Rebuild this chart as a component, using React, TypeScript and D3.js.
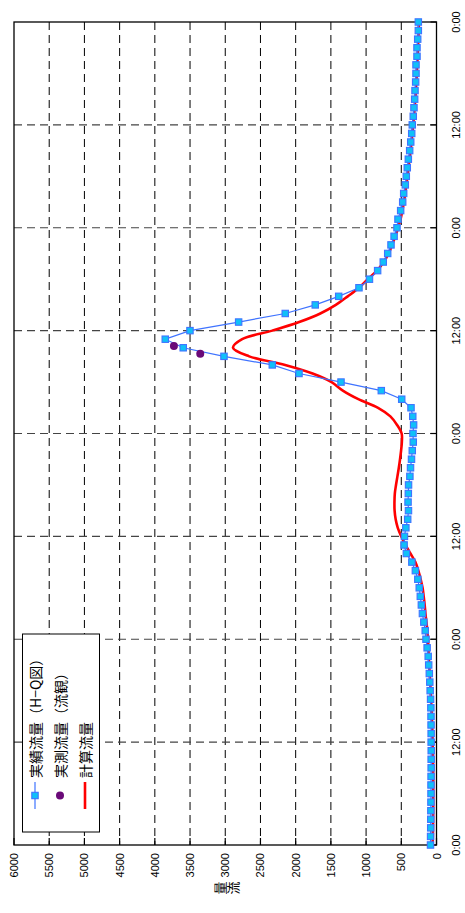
import { useEffect, useRef } from "react";
import * as d3 from "d3";

// hours from start (one point per hour, 4 days)
const hours = d3.range(0, 97);

// 実績流量（H−Q図）
const hqFlow = [
  85, 84, 82, 81, 80, 79, 78, 78, 77, 76, 76, 75,
  76, 76, 77, 78, 80, 84, 90, 95, 102, 111, 118, 133,
  149, 160, 180, 200, 215, 230, 245, 265, 300, 350, 428, 460,
  455, 435, 409, 398, 404, 400, 397, 378, 369, 355, 344, 330,
  334, 325, 337, 362, 494, 784, 1356, 1953, 2332, 3018, 3597, 3852,
  3501, 2810, 2148, 1722, 1389, 1101, 952, 836, 756, 693, 646, 602,
  561, 547, 509, 480, 466, 443, 429, 415, 400, 381, 366, 352,
  344, 330, 320, 310, 305, 296, 291, 291, 277, 277, 267, 258,
  258,
];

// 計算流量
const calcFlow = [
  55, 52, 50, 48, 47, 46, 46, 46, 47, 48, 50, 52,
  55, 58, 62, 67, 72, 78, 84, 90, 97, 104, 110, 115,
  120, 130, 143, 157, 168, 182, 198, 225, 258, 300, 370, 440,
  500, 550, 580, 595, 597, 592, 575, 555, 535, 518, 503, 492,
  495, 560, 655, 830, 1110, 1330, 1490, 1760, 2150, 2660, 2890, 2760,
  2330, 1950, 1650, 1430, 1260, 1100, 975, 845, 750, 680, 630, 585,
  545, 510, 485, 462, 445, 428, 412, 398, 383, 368, 355, 343,
  332, 320, 310, 301, 293, 286, 280, 274, 268, 263, 258, 253,
  250,
];

// 実測流量（流観）
const obsHours = [57.3, 58.2];
const obsFlow = [3355, 3729];

const valueTicks = d3.range(0, 6001, 500);
const timeTicks = d3.range(0, 97, 12);
const timeLabels = ["0:00", "12:00", "0:00", "12:00", "0:00", "12:00", "0:00", "12:00", "0:00"];

const legendItems = ["実績流量（H−Q図）", "実測流量（流観）", "計算流量"];

const FONT = "'Liberation Sans', Arial, sans-serif";
const JP = "'Noto Sans CJK JP', sans-serif";

export default function App() {
  const ref = useRef<SVGSVGElement>(null);

  useEffect(() => {
    const el = ref.current;
    if (!el) return;
    const W = 465, H = 913;
    const svg = d3.select(el).attr("width", W).attr("height", H).attr("viewBox", `0 0 ${W} ${H}`);
    svg.selectAll("*").remove();

    // chart is drawn turned a quarter turn: value runs right->left, time bottom->top
    const L = 14, R = 436.5, T = 22, B = 845;
    const x = d3.scaleLinear().domain([0, 6000]).range([R, L]);
    const y = d3.scaleLinear().domain([0, 96]).range([B, T]);

    svg.append("rect").attr("width", W).attr("height", H).attr("fill", "#fff");

    // grid
    valueTicks.filter((v) => v > 0 && v < 6000).forEach((v) => {
      svg.append("line").attr("x1", x(v)).attr("x2", x(v)).attr("y1", T).attr("y2", B)
        .attr("stroke", "#000").attr("stroke-width", 1).attr("stroke-dasharray", "8 5");
    });
    timeTicks.filter((t) => t > 0 && t < 96).forEach((t) => {
      svg.append("line").attr("x1", L).attr("x2", R).attr("y1", y(t)).attr("y2", y(t))
        .attr("stroke", "#444").attr("stroke-width", 1.2).attr("stroke-dasharray", "8 5");
    });

    // frame
    svg.append("rect").attr("x", L).attr("y", T).attr("width", R - L).attr("height", B - T)
      .attr("fill", "none").attr("stroke", "#000").attr("stroke-width", 1.3);

    // ticks
    valueTicks.forEach((v) => {
      svg.append("line").attr("x1", x(v)).attr("x2", x(v)).attr("y1", B).attr("y2", B - 7)
        .attr("stroke", "#000").attr("stroke-width", 1.2);
      svg.append("text").attr("transform", `translate(${x(v)},${B + 8}) rotate(-90)`)
        .attr("text-anchor", "end").attr("dominant-baseline", "central")
        .attr("font-family", FONT).attr("font-size", 11).attr("fill", "#000").text(v);
    });
    timeTicks.forEach((t, i) => {
      svg.append("line").attr("x1", R).attr("x2", R - 6).attr("y1", y(t)).attr("y2", y(t))
        .attr("stroke", "#000").attr("stroke-width", 1.2);
      svg.append("text").attr("transform", `translate(${R + 19},${y(t)}) rotate(-90)`)
        .attr("text-anchor", "middle").attr("dominant-baseline", "central")
        .attr("font-family", FONT).attr("font-size", 11).attr("fill", "#000").text(timeLabels[i]);
    });

    // axis title (stacked glyphs turned with the chart)
    ["量", "流"].forEach((c, i) => {
      svg.append("text").attr("transform", `translate(${219 + i * 13},${888}) rotate(-90)`)
        .attr("text-anchor", "middle").attr("dominant-baseline", "central")
        .attr("font-family", JP).attr("font-size", 13).attr("fill", "#000").text(c);
    });

    // series
    const hq = hours.map((h, i) => ({ h, v: hqFlow[i] }));
    const calc = hours.map((h, i) => ({ h, v: calcFlow[i] }));

    const calcLine = d3.line<{ h: number; v: number }>().x((d) => x(d.v)).y((d) => y(d.h)).curve(d3.curveCatmullRom.alpha(0.5));
    svg.append("path").datum(calc).attr("fill", "none").attr("stroke", "#ff0000").attr("stroke-width", 2.6).attr("d", calcLine);

    const hqLine = d3.line<{ h: number; v: number }>().x((d) => x(d.v)).y((d) => y(d.h));
    svg.append("path").datum(hq).attr("fill", "none").attr("stroke", "#3f73ff").attr("stroke-width", 1.2).attr("d", hqLine);

    svg.append("g").selectAll("rect").data(hq).join("rect")
      .attr("x", (d) => x(d.v) - 3.2).attr("y", (d) => y(d.h) - 3.2).attr("width", 6.4).attr("height", 6.4)
      .attr("fill", "#10c0f8").attr("stroke", "#3f73ff").attr("stroke-width", 1.1);

    svg.append("g").selectAll("circle").data(obsHours).join("circle")
      .attr("cx", (_d, i) => x(obsFlow[i])).attr("cy", (d) => y(d)).attr("r", 4)
      .attr("fill", "#6a0a78");

    // legend
    const lg = svg.append("g");
    lg.append("rect").attr("x", 22.5).attr("y", 634).attr("width", 77).attr("height", 198)
      .attr("fill", "#fff").attr("stroke", "#000").attr("stroke-width", 1);
    const lx = [35, 60, 85];
    lg.append("line").attr("x1", lx[0]).attr("x2", lx[0]).attr("y1", 782).attr("y2", 809).attr("stroke", "#3f73ff").attr("stroke-width", 1.2);
    lg.append("rect").attr("x", lx[0] - 3.2).attr("y", 795.5 - 3.2).attr("width", 6.4).attr("height", 6.4)
      .attr("fill", "#10c0f8").attr("stroke", "#3f73ff").attr("stroke-width", 1.1);
    lg.append("circle").attr("cx", lx[1]).attr("cy", 795.5).attr("r", 4).attr("fill", "#6a0a78");
    lg.append("line").attr("x1", lx[2]).attr("x2", lx[2]).attr("y1", 782).attr("y2", 809).attr("stroke", "#ff0000").attr("stroke-width", 2.6);
    legendItems.forEach((s, i) => {
      lg.append("text").attr("transform", `translate(${lx[i]},${778}) rotate(-90)`)
        .attr("text-anchor", "start").attr("dominant-baseline", "central")
        .attr("font-family", JP).attr("font-size", 14).attr("fill", "#000").text(s);
    });
  }, []);

  return <svg ref={ref} style={{ position: "absolute", left: 0, top: 0 }} role="img" aria-label="流量ハイドログラフ" />;
}
